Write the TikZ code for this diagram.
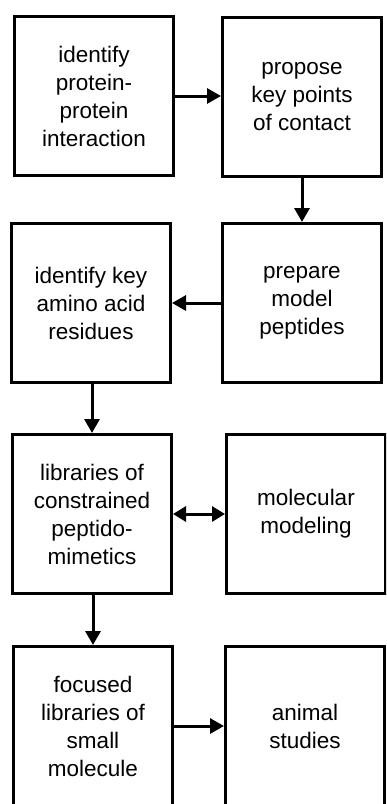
\documentclass[tikz,border=0pt]{standalone}
\usepackage{fontspec}
\setmainfont{Liberation Sans}
\usetikzlibrary{arrows.meta}

\tikzset{
    stepbox/.style={draw, line width=3pt, minimum width=159pt, minimum height=159pt,
        align=center, inner sep=0pt, font=\fontsize{22.5}{28}\selectfont},
    flow/.style={line width=3pt, -{Triangle[length=14pt, width=15pt]}},
    both/.style={line width=3pt, {Triangle[length=13pt, width=15pt]}-{Triangle[length=13pt, width=15pt]}}
}

\begin{document}
\begin{tikzpicture}[x=1pt, y=-1pt]
        % Frame of the page
        \useasboundingbox (0, 0) rectangle (386, 804);
        \clip (0, 0) rectangle (386, 804);

        % First row
        \node[stepbox] (A1) at (94, 96) {identify\\protein-\\protein\\interaction};
        \node[stepbox] (A2) at (302, 97) {propose\\key points\\of contact};

        % Second row
        \node[stepbox] (B1) at (302, 303) {prepare\\model\\peptides};
        \node[stepbox] (B2) at (91, 303) {identify key\\amino acid\\residues};

        % Third row
        \node[stepbox] (C1) at (92, 514) {libraries of\\constrained\\peptido-\\mimetics};
        \node[stepbox] (C2) at (306, 514) {molecular\\modeling};

        % Fourth row
        \node[stepbox] (D1) at (93, 726) {focused\\libraries of\\small\\molecule};
        \node[stepbox] (D2) at (305, 726) {animal\\studies};

        % Connections
        \draw[flow] (A1.east) -- (A2.west |- A1.east);
        \draw[flow] (A2.south) -- (B1.north);
        \draw[flow] (B1.west) -- (B2.east);
        \draw[flow] (B2.south -| C1.north) -- (C1.north);
        \draw[both] (C1.east) -- (C2.west);
        \draw[flow] (C1.south -| D1.north) -- (D1.north);
        \draw[flow] (D1.east) -- (D2.west);
\end{tikzpicture}
\end{document}
